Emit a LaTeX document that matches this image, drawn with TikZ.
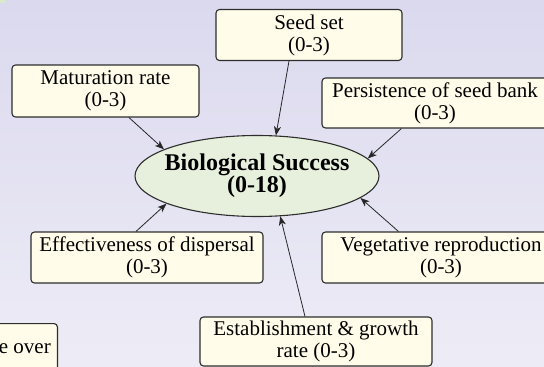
\documentclass[tikz,border=0pt]{standalone}
\usepackage{fontspec}
\setmainfont{Liberation Serif}
\usetikzlibrary{shapes.geometric,arrows.meta,calc}
\definecolor{bgtop}{RGB}{219,217,238}
\definecolor{bgbot}{RGB}{237,236,246}
\definecolor{boxfill}{RGB}{255,253,233}
\definecolor{ellfill}{RGB}{231,240,221}
\definecolor{edge}{RGB}{45,45,45}
\definecolor{patch}{RGB}{215,235,200}
\tikzset{
  factor/.style={draw=edge, line width=1.1pt, fill=boxfill, rounded corners=3.5pt,
    align=center, inner sep=0pt, font=\fontsize{21}{22}\selectfont},
  central/.style={ellipse, draw=edge, line width=1.1pt, fill=ellfill, align=center,
    inner xsep=-12pt, inner ysep=0pt, minimum width=244pt, minimum height=81pt,
    font=\fontsize{24}{22}\selectfont\bfseries},
  arr/.style={draw=black!85, line width=0.8pt, -{Stealth[length=9pt,width=7pt,inset=2.5pt]}}
}
\begin{document}
\begin{tikzpicture}[x=1pt,y=-1pt]
\useasboundingbox (0,0) rectangle (544,367);
\clip (0,0) rectangle (544,367);
\shade[top color=bgtop, bottom color=bgbot] (0,0) rectangle (544,367);
\fill[patch] (0,0) rectangle (5,3);

\node[central] (bio) at (257,176) {Biological Success\\(0-18)};

\node[factor, minimum width=186pt, minimum height=51pt] (seed) at (309,35) {Seed set\\(0-3)};
\node[factor, minimum width=187pt, minimum height=52pt] (mat) at (105.5,91) {Maturation rate\\(0-3)};
\node[factor, minimum width=226pt, minimum height=50pt] (pers) at (435,103) {Persistence of seed bank\\(0-3)};
\node[factor, minimum width=232pt, minimum height=51pt] (eff) at (147,257.5) {Effectiveness of dispersal\\(0-3)};
\node[factor, minimum width=238pt, minimum height=51pt] (veg) at (441,257.5) {Vegetative reproduction\\(0-3)};
\node[factor, minimum width=232pt, minimum height=49pt] (est) at (316,341.5) {Establishment \& growth\\rate (0-3)};
\node[factor, minimum width=90pt, minimum height=70pt, anchor=north east] (over) at (58,323) {};
\node[font=\fontsize{21}{22}\selectfont, anchor=base east, inner sep=0pt] (overtext) at (51,353) {e over};

\draw[arr] ($(seed.south)+(-20,0)$) -- (bio.65);
\draw[arr] ($(mat.south)+(23.5,0)$) -- (bio.164);
\draw[arr] ($(pers.south west)+(80,0)$) -- (bio.9.5);
\draw[arr] ($(eff.north)+(-11,0)$) -- (bio.197.5);
\draw[arr] ($(veg.north west)+(77,0)$) -- (bio.348);
\draw[arr] ($(est.north)+(-11,0)$) -- (bio.300);
\end{tikzpicture}
\end{document}
